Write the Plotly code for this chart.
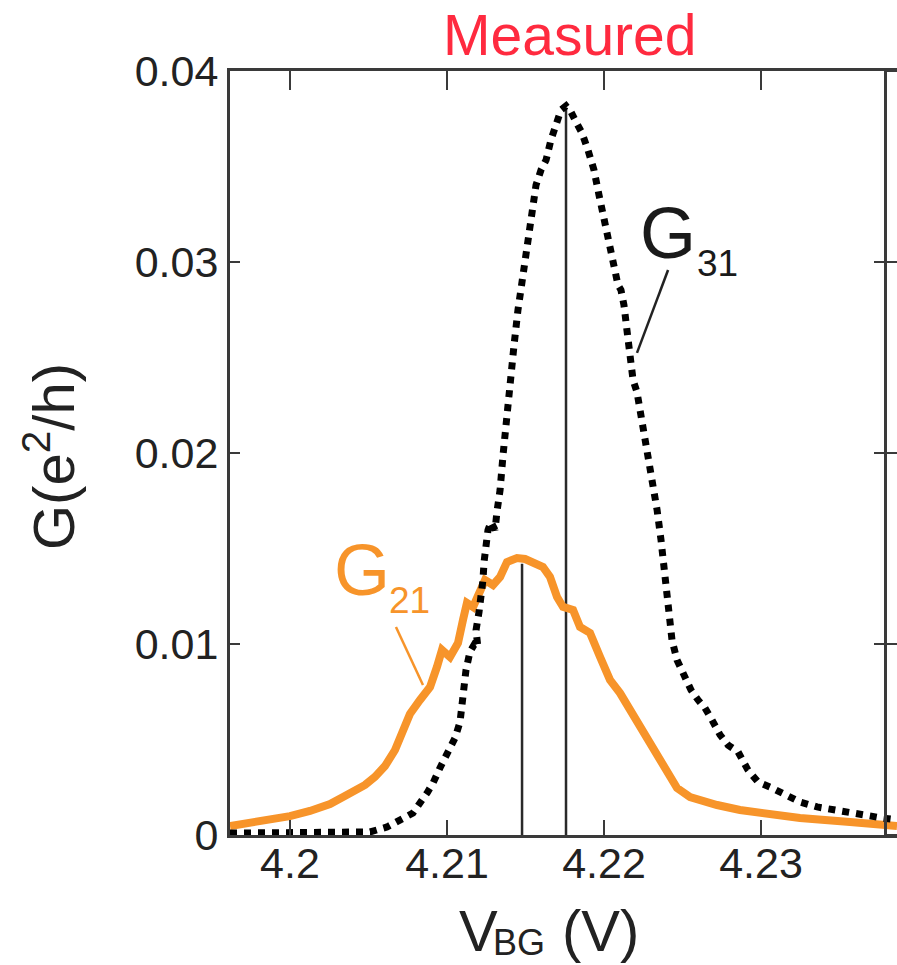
import plotly.graph_objects as go

# ---- data ----
g31_v = [4.19618, 4.19809, 4.2, 4.20191, 4.20382, 4.20510, 4.20618, 4.20701, 4.20783, 4.20873,
         4.20911, 4.20955, 4.21006, 4.21051, 4.21083, 4.21096, 4.21102, 4.21121, 4.21146, 4.21172,
         4.21197, 4.21185, 4.21204, 4.21217, 4.21229, 4.21236, 4.21248, 4.21261, 4.21280, 4.21306,
         4.21318, 4.21338, 4.21357, 4.21376, 4.21401, 4.21427, 4.21452, 4.21478, 4.21503, 4.21535,
         4.21567, 4.21599, 4.21631, 4.21662, 4.21694, 4.21726, 4.21758, 4.21790, 4.21822, 4.21860,
         4.21898, 4.21936, 4.21968, 4.22000, 4.22032, 4.22064, 4.22089, 4.22108, 4.22127, 4.22146,
         4.22166, 4.22185, 4.22210, 4.22236, 4.22261, 4.22287, 4.22312, 4.22338, 4.22363, 4.22389,
         4.22408, 4.22433, 4.22465, 4.22510, 4.22554, 4.22599, 4.22643, 4.22688, 4.22739, 4.22790,
         4.22854, 4.22917, 4.22981, 4.23057, 4.23140, 4.23248, 4.23357, 4.23459, 4.23567, 4.23675,
         4.23771, 4.23866]
g31_g = [0.00010, 0.00010, 0.00010, 0.00010, 0.00010, 0.00016, 0.00042, 0.00079, 0.00115, 0.00220,
         0.00272, 0.00351, 0.00435, 0.00508, 0.00592, 0.00681, 0.00770, 0.00864, 0.00958, 0.00995,
         0.00979, 0.01073, 0.01168, 0.01246, 0.01335, 0.01429, 0.01518, 0.01597, 0.01639, 0.01597,
         0.01691, 0.01806, 0.01990, 0.02173, 0.02356, 0.02565, 0.02749, 0.02906, 0.03063, 0.03246,
         0.03403, 0.03482, 0.03534, 0.03639, 0.03733, 0.03796, 0.03817, 0.03785, 0.03733, 0.03675,
         0.03586, 0.03482, 0.03351, 0.03220, 0.03089, 0.02969, 0.02880, 0.02853, 0.02775, 0.02644,
         0.02487, 0.02382, 0.02319, 0.02199, 0.02068, 0.01937, 0.01817, 0.01702, 0.01545, 0.01361,
         0.01178, 0.01021, 0.00916, 0.00838, 0.00759, 0.00707, 0.00665, 0.00602, 0.00524, 0.00471,
         0.00435, 0.00340, 0.00277, 0.00251, 0.00220, 0.00173, 0.00147, 0.00131, 0.00120, 0.00105,
         0.00089, 0.00079]

g21_v = [4.19618, 4.19745, 4.19873, 4.2, 4.20127, 4.20255, 4.20338, 4.20414, 4.20478, 4.20541,
         4.20605, 4.20669, 4.20720, 4.20764, 4.20828, 4.20892, 4.20936, 4.20968, 4.21019, 4.21070,
         4.21102, 4.21127, 4.21166, 4.21210, 4.21242, 4.21293, 4.21338, 4.21382, 4.21446, 4.21497,
         4.21548, 4.21611, 4.21656, 4.21701, 4.21739, 4.21803, 4.21847, 4.21911, 4.21975, 4.22038,
         4.22102, 4.22166, 4.22229, 4.22293, 4.22357, 4.22401, 4.22465, 4.22548, 4.22643, 4.22720,
         4.22866, 4.22994, 4.23248, 4.23567, 4.23777, 4.23866]
g21_g = [0.00047, 0.00063, 0.00084, 0.00099, 0.00126, 0.00162, 0.00199, 0.00230, 0.00262, 0.00304,
         0.00361, 0.00445, 0.00534, 0.00634, 0.00707, 0.00775, 0.00880, 0.00969, 0.00932, 0.01005,
         0.01126, 0.01215, 0.01194, 0.01267, 0.01335, 0.01309, 0.01351, 0.01429, 0.01450, 0.01445,
         0.01429, 0.01403, 0.01351, 0.01246, 0.01194, 0.01178, 0.01089, 0.01058, 0.00932, 0.00812,
         0.00743, 0.00654, 0.00586, 0.00497, 0.00408, 0.00330, 0.00246, 0.00199, 0.00173, 0.00157,
         0.00131, 0.00115, 0.00089, 0.00068, 0.00052, 0.00047]

peak_v = [4.21478, 4.21758]     # vertical marker positions (G21 peak, G31 peak)
peak_g = [0.0142, 0.0381]       # marker heights

x_ticks = [4.20, 4.21, 4.22, 4.23]
x_ticktext = ["4.2", "4.21", "4.22", "4.23"]
y_ticks = [0, 0.01, 0.02, 0.03, 0.04]
y_ticktext = ["0", "0.01", "0.02", "0.03", "0.04"]

X_RANGE = [4.19618, 4.23866]
Y_RANGE = [0, 0.04]

FONT = "Liberation Sans, Arial, sans-serif"
ORANGE = "#F7942A"
AXC = "#3a3a3a"

# plot area in pixels (used only to place paper-referenced text)
L, R, T, B = 230, 897, 71, 835
def px(xp):
    return (xp - L) / (R - L)
def py(yp):
    return (B - yp) / (B - T)

fig = go.Figure()

# vertical marker lines
for v, g in zip(peak_v, peak_g):
    fig.add_trace(go.Scatter(x=[v, v], y=[0, g], mode="lines",
                             line=dict(color="#2a2a2a", width=2.5), showlegend=False, hoverinfo="skip"))

fig.add_trace(go.Scatter(x=g21_v, y=g21_g, mode="lines", name="G21",
                         line=dict(color=ORANGE, width=8), showlegend=False))
fig.add_trace(go.Scatter(x=g31_v, y=g31_g, mode="lines", name="G31",
                         line=dict(color="black", width=7, dash="dot"), showlegend=False))

# helper invisible traces for frame axes
for xa, ya in [("x2", "y"), ("x3", "y"), ("x", "y2"), ("x", "y3")]:
    fig.add_trace(go.Scatter(x=X_RANGE, y=Y_RANGE, xaxis=xa, yaxis=ya, mode="lines",
                             line=dict(width=0), showlegend=False, hoverinfo="skip"))

tickfont = dict(family=FONT, size=43, color="#222222")
frame = dict(showgrid=False, zeroline=False, tickwidth=2, tickcolor=AXC)

fig.update_layout(
    width=897, height=965,
    margin=dict(l=L, r=897 - R, t=T, b=965 - B),
    paper_bgcolor="white", plot_bgcolor="white",
    font=dict(family=FONT),
    xaxis=dict(range=X_RANGE, tickvals=x_ticks, ticktext=x_ticktext, ticks="",
               showline=True, linecolor=AXC, linewidth=3, tickfont=tickfont,
               ticklabelstandoff=-12, **frame),
    xaxis2=dict(range=X_RANGE, overlaying="x", side="top", anchor="y", tickvals=x_ticks,
                ticks="inside", ticklen=19, showline=True, linecolor=AXC, linewidth=3,
                showticklabels=False, **frame),
    xaxis3=dict(range=X_RANGE, overlaying="x", side="bottom", anchor="y", tickvals=x_ticks,
                ticks="inside", ticklen=15, showline=False, showticklabels=False, **frame),
    yaxis=dict(range=Y_RANGE, tickvals=y_ticks, ticktext=y_ticktext, ticks="inside",
               ticklen=10, showline=True, linecolor=AXC, linewidth=3,
               tickfont=tickfont, ticklabelstandoff=0, **frame),
    yaxis2=dict(range=Y_RANGE, overlaying="y", side="right", anchor="free",
                position=px(885), tickvals=y_ticks, ticks="inside", ticklen=10,
                showline=True, linecolor=AXC, linewidth=3, showticklabels=False, **frame),
    yaxis3=dict(range=Y_RANGE, overlaying="y", side="right", anchor="free",
                position=px(885), tickvals=y_ticks, ticks="outside", ticklen=11,
                showline=False, showticklabels=False, **frame),
)

# pointer lines
fig.add_shape(type="line", xref="x", yref="y", x0=4.22408, y0=0.02958, x1=4.22210, y1=0.02524,
              line=dict(color="#222222", width=2.5))
fig.add_shape(type="line", xref="x", yref="y", x0=4.20675, y0=0.01089, x1=4.20847, y1=0.00785,
              line=dict(color=ORANGE, width=2.5))

# labels
def ann(text, x, y, size, color, xref="x", yref="y", **kw):
    fig.add_annotation(text=text, x=x, y=y, xref=xref, yref=yref, showarrow=False,
                       xanchor="center", yanchor="middle",
                       font=dict(family=FONT, size=size, color=color), **kw)

ann("G", 4.22408, 0.03152, 72, "#1a1a1a")
ann("31", 4.22720, 0.02990, 37, "#1a1a1a")
ann("G", 4.20459, 0.01387, 72, ORANGE)
ann("21", 4.20764, 0.01230, 37, ORANGE)

# title
ann("Measured", px(569), py(35), 57, "#FF2A3F", xref="paper", yref="paper")

# x axis title pieces
ann("V", px(478), py(930), 58, "#222222", xref="paper", yref="paper")
ann("BG", px(519), py(942), 36, "#222222", xref="paper", yref="paper")
ann("(V)", px(600), py(930), 58, "#222222", xref="paper", yref="paper")

# y axis title
ann("G(e<sup>2</sup>/h)", px(50), py(457), 58, "#222222", xref="paper", yref="paper",
    textangle=-90)

fig.write_html("out.html")
